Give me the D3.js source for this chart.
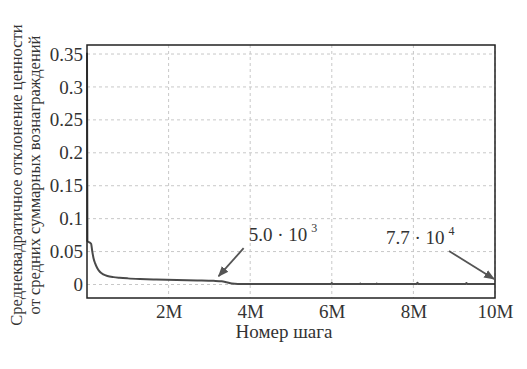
<!DOCTYPE html>
<html>
<head>
<meta charset="utf-8">
<script src="https://cdn.jsdelivr.net/npm/d3@7"></script>
<style>
  body { margin: 0; background: white; }
</style>
</head>
<body>
<div id="container"></div>
<script>
let w = 527;
let h = 369;

// data (step number, value)
let steps  = [0, 10000, 30000, 60000, 100000, 130000, 160000, 200000, 250000, 320000, 400000, 500000, 650000, 800000, 1000000, 1300000, 1700000, 2200000, 2700000, 3100000, 3300000, 3420000, 3550000, 3700000, 4500000, 5980000, 6000000, 6020000, 6690000, 6700000, 6710000, 7090000, 7100000, 7110000, 8080000, 8100000, 8120000, 9280000, 9300000, 9320000, 10000000];
let values = [0.352, 0.066, 0.065, 0.064, 0.062, 0.05, 0.04, 0.032, 0.025, 0.019, 0.0155, 0.013, 0.0112, 0.0102, 0.0093, 0.0084, 0.0076, 0.0068, 0.0062, 0.0056, 0.005, 0.0035, 0.0015, 0.0009, 0.0008, 0.0008, 0.0022, 0.0008, 0.0008, 0.0016, 0.0008, 0.0008, 0.0016, 0.0008, 0.00078, 0.0028, 0.00078, 0.00077, 0.0024, 0.00077, 0.00077];

let xTicks = [2000000, 4000000, 6000000, 8000000, 10000000];
let xTickLabels = ["2M", "4M", "6M", "8M", "10M"];
let yTicks = [0, 0.05, 0.1, 0.15, 0.2, 0.25, 0.3, 0.35];
let yTickLabels = ["0", "0.05", "0.1", "0.15", "0.2", "0.25", "0.3", "0.35"];

let xTitle = "Номер шага";
let yTitleLines = ["Среднеквадратичное отклонение ценности", "от средних суммарных вознаграждений"];

// annotations: step the arrow points at, value, mantissa, exponent
let notes = [
  {step: 3300000, value: 0.005, mantissa: "5.0 · 10", exp: "3"},
  {step: 10000000, value: 0.00077, mantissa: "7.7 · 10", exp: "4"}
];

let serif = "'Liberation Serif', 'Times New Roman', Times, 'DejaVu Serif', 'Noto Serif', serif";

let viz = d3.select("#container").append("svg")
    .attr("width", w)
    .attr("height", h)
    .style("background-color", "white")
    .style("font-family", serif);

let plotLeft = 87, plotRight = 495, plotTop = 45, plotBottom = 298;

let xScale = d3.scaleLinear().domain([0, 10000000]).range([plotLeft, plotRight]);
let yScale = d3.scaleLinear().domain([-0.0205, 0.3637]).range([plotBottom, plotTop]);

// grid
let grid = viz.append("g").attr("class", "grid");
grid.selectAll(".vgrid").data(xTicks).enter().append("line")
    .attr("x1", d => xScale(d)).attr("x2", d => xScale(d))
    .attr("y1", plotTop).attr("y2", plotBottom)
    .attr("stroke", "#c8c8c8").attr("stroke-width", 1).attr("stroke-dasharray", "3,3");
grid.selectAll(".hgrid").data(yTicks).enter().append("line")
    .attr("x1", plotLeft).attr("x2", plotRight)
    .attr("y1", d => yScale(d)).attr("y2", d => yScale(d))
    .attr("stroke", "#c8c8c8").attr("stroke-width", 1).attr("stroke-dasharray", "3,3");

// axes
let xAxis = d3.axisBottom(xScale).tickValues(xTicks)
    .tickFormat((d, i) => xTickLabels[i]).tickSize(0).tickPadding(7);
let xAxisGroup = viz.append("g").attr("class", "xAxis")
    .attr("transform", "translate(0, " + plotBottom + ")").call(xAxis);

let yAxis = d3.axisLeft(yScale).tickValues(yTicks)
    .tickFormat((d, i) => yTickLabels[i]).tickSize(0).tickPadding(4);
let yAxisGroup = viz.append("g").attr("class", "yAxis")
    .attr("transform", "translate(" + plotLeft + ", 0)").call(yAxis);

viz.selectAll(".xAxis path, .yAxis path").remove();
viz.selectAll(".xAxis, .yAxis").attr("font-family", null).attr("font-size", null);
viz.selectAll(".xAxis text, .yAxis text")
    .style("font-family", serif)
    .style("font-size", "19px")
    .attr("fill", "#333");

// curve
let line = d3.line()
    .x((d, i) => xScale(steps[i]))
    .y(d => yScale(d))
    .curve(d3.curveMonotoneX);

viz.append("path")
    .datum(values)
    .attr("d", line)
    .attr("fill", "none")
    .attr("stroke", "#4a4a4a")
    .attr("stroke-width", 2);

// frame
viz.append("rect")
    .attr("x", plotLeft).attr("y", plotTop)
    .attr("width", plotRight - plotLeft).attr("height", plotBottom - plotTop)
    .attr("fill", "none").attr("stroke", "#222").attr("stroke-width", 1.5);

// arrows + labels
viz.append("defs").append("marker")
    .attr("id", "arrow")
    .attr("viewBox", "0 0 10 10")
    .attr("refX", 9).attr("refY", 5)
    .attr("markerWidth", 6).attr("markerHeight", 6)
    .attr("markerUnits", "strokeWidth")
    .attr("orient", "auto")
  .append("path")
    .attr("d", "M0,1 L10,5 L0,9 Z")
    .attr("fill", "#555");

let arrowOffsets = [[25, -28], [-45, -28]];
notes.forEach(function(n, i) {
  let px = xScale(n.step) + (i == 0 ? -3 : -1);
  let py = yScale(n.value) - 5;
  let o = arrowOffsets[i];
  viz.append("line")
    .attr("x1", px + o[0]).attr("y1", py + o[1])
    .attr("x2", px).attr("y2", py)
    .attr("stroke", "#555").attr("stroke-width", 1.8)
    .attr("marker-end", "url(#arrow)");
  let t = viz.append("text")
    .attr("x", px + o[0] + 5 + (i == 0 ? 0 : -68))
    .attr("y", py + o[1] - 7)
    .attr("fill", "#333")
    .style("font-size", "19px");
  t.append("tspan").text(n.mantissa);
  t.append("tspan").attr("dx", 4).attr("dy", -9).style("font-size", "12px").text(n.exp);
});

// titles
viz.append("text")
    .attr("x", (plotLeft + plotRight) / 2 - 7)
    .attr("y", 338)
    .attr("text-anchor", "middle")
    .attr("fill", "#333")
    .style("font-size", "19px")
    .text(xTitle);

yTitleLines.forEach(function(s, i) {
  viz.append("text")
    .attr("transform", "translate(" + (22 + i * 18) + ", " + 175 + ") rotate(-90)")
    .attr("text-anchor", "middle")
    .attr("fill", "#333")
    .style("font-size", "16.5px")
    .text(s);
});
</script>
</body>
</html>
